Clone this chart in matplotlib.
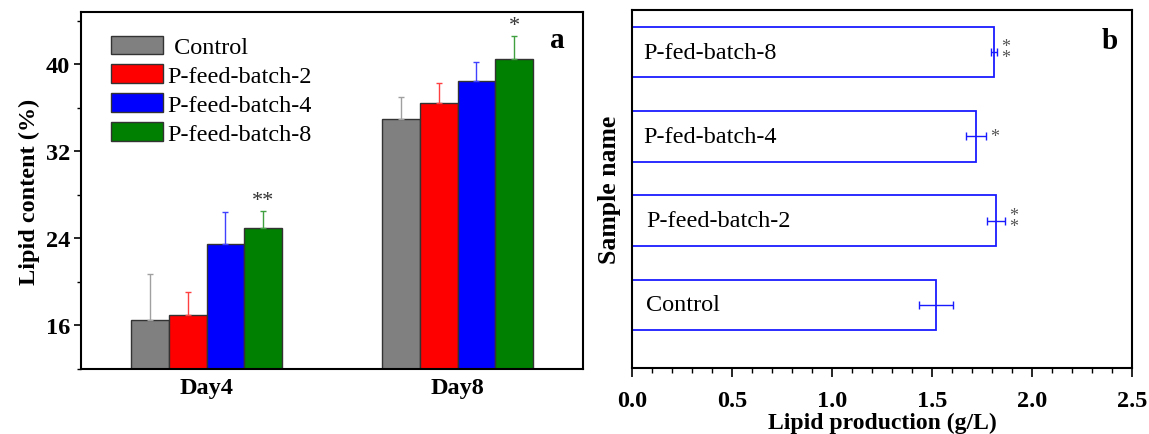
import numpy as np
import matplotlib.pyplot as plt
from matplotlib.ticker import MultipleLocator

plt.rcParams['font.family'] = ['Liberation Serif', 'DejaVu Serif']

# panel a data
days = ['Day4', 'Day8']
groups = [' Control', 'P-feed-batch-2', 'P-feed-batch-4', 'P-feed-batch-8']
content = [[16.5, 35.0],
           [17.0, 36.4],
           [23.5, 38.5],
           [25.0, 40.5]]
content_err = [[4.2, 2.0],
               [2.1, 1.9],
               [2.9, 1.75],
               [1.5, 2.1]]
colors = ['#808080', '#ff0000', '#0000ff', '#008000']
err_colors = ['#a0a0a0', '#ff4040', '#4040ff', '#40a040']

# panel b data
samples = ['Control', 'P-feed-batch-2', 'P-fed-batch-4', 'P-fed-batch-8']
production = [1.52, 1.82, 1.72, 1.81]
production_err = [0.083, 0.043, 0.05, 0.013]
signif = ['', '*\n*', '*', '*\n*']

fig = plt.figure(figsize=(11.49, 4.35), dpi=100)
ax1 = fig.add_axes([0.0705, 0.1494, 0.4369, 0.8207])
ax2 = fig.add_axes([0.550, 0.1517, 0.4352, 0.823])

x = np.arange(1, len(days) + 1)
w = 0.15
for i in range(len(groups)):
    pos = x + (i - 1.5) * w
    ax1.bar(pos, content[i], w, bottom=0, color=colors[i], edgecolor='#333333',
            linewidth=1, label=groups[i], zorder=2)
    ax1.errorbar(pos, content[i], yerr=[[0, 0], content_err[i]], fmt='none',
                 ecolor=err_colors[i], elinewidth=1, capsize=2.5, capthick=1, zorder=3)

# significance marks on panel a
ax1.text(x[0] + 1.5 * w, content[3][0] + content_err[3][0] + 0.1, '**',
         ha='center', va='bottom', fontsize=16, color='#333333')
ax1.text(x[1] + 1.5 * w, content[3][1] + content_err[3][1] + 0.1, '*',
         ha='center', va='bottom', fontsize=16, color='#333333')

ax1.set_xlim(0.5, 2.5)
ax1.set_ylim(12, 44.8)
ax1.set_yticks([16, 24, 32, 40])
ax1.yaxis.set_minor_locator(MultipleLocator(4))
ax1.set_xticks(x)
ax1.set_xticklabels(days, fontweight='bold', fontsize=17.5)
for t in ax1.get_yticklabels():
    t.set_fontweight('bold')
    t.set_fontsize(17.5)
ax1.tick_params(axis='x', length=0, pad=6)
ax1.tick_params(axis='y', which='major', length=5, width=1.2, pad=3)
ax1.tick_params(axis='y', which='minor', length=3, width=1)
ax1.set_ylabel('Lipid content (%)', fontweight='bold', fontsize=17.5, labelpad=4)
for s in ax1.spines.values():
    s.set_linewidth(1.5)
ax1.legend(loc='upper left', bbox_to_anchor=(0.03, 0.975), frameon=False, fontsize=17.5,
           handlelength=2.14, handleheight=0.82, labelspacing=0.25, handletextpad=0.2,
           borderaxespad=0.2)
ax1.text(0.964, 0.96, 'a', transform=ax1.transAxes, ha='right', va='top',
         fontsize=21, fontweight='bold')

# panel b
y = np.arange(1, len(samples) + 1)
ax2.barh(y, production, 0.6, color='white', edgecolor='#1a1aff', linewidth=1.3, zorder=2)
ax2.errorbar(production, y, xerr=production_err, fmt='none', ecolor='#1a1aff',
             elinewidth=1, capsize=3, capthick=1, zorder=3)
for i in range(len(samples)):
    ax2.text(0.07 if i < 2 else 0.055, y[i], samples[i], ha='left', va='center',
             fontsize=17.5)
    if signif[i]:
        ax2.text(production[i] + production_err[i] + 0.045, y[i], signif[i],
                 ha='center', va='center', fontsize=13, color='#555555', linespacing=0.55)

ax2.set_xlim(0, 2.5)
ax2.set_ylim(0.25, 4.5)
ax2.set_yticks([])
ax2.xaxis.set_major_locator(MultipleLocator(0.5))
ax2.xaxis.set_minor_locator(MultipleLocator(0.1))
ax2.tick_params(axis='x', which='major', length=6.5, width=1.2, pad=9)
ax2.tick_params(axis='x', which='minor', length=3.5, width=1)
for t in ax2.get_xticklabels():
    t.set_fontweight('bold')
    t.set_fontsize(17.5)
ax2.set_xlabel('Lipid production (g/L)', fontweight='bold', fontsize=17, labelpad=1)
ax2.set_ylabel('Sample name', fontweight='bold', fontsize=18.5, labelpad=8)
for s in ax2.spines.values():
    s.set_linewidth(1.5)
ax2.text(0.972, 0.952, 'b', transform=ax2.transAxes, ha='right', va='top',
         fontsize=21, fontweight='bold')

plt.savefig('out.png', dpi=100)
